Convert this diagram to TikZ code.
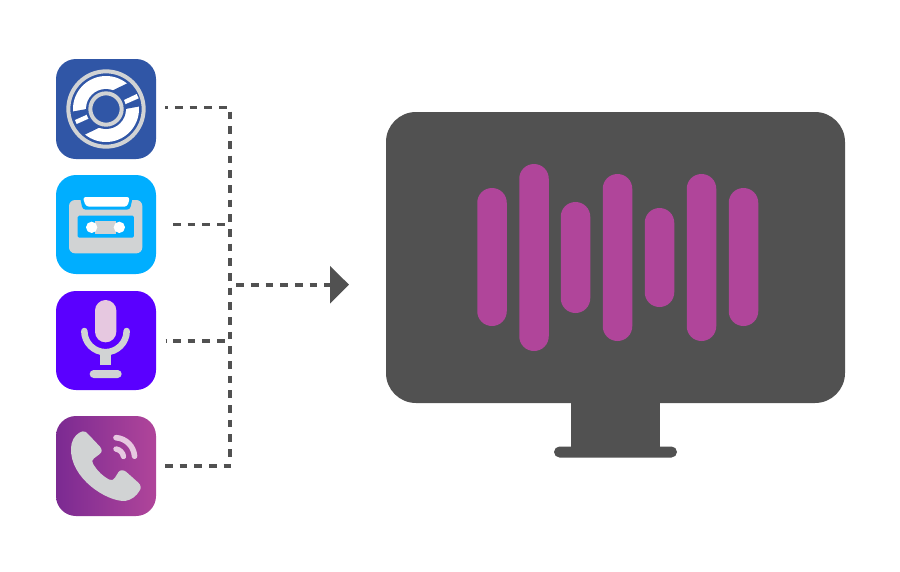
\documentclass[tikz,border=0pt]{standalone}
\usetikzlibrary{arrows.meta}
\definecolor{darkg}{HTML}{515151}
\definecolor{lgray}{HTML}{D1D3D4}
\definecolor{cdblue}{HTML}{3056A6}
\definecolor{cyanb}{HTML}{00AEFF}
\definecolor{violetb}{HTML}{5A00FF}
\definecolor{mag}{HTML}{B0459A}
\definecolor{plum}{HTML}{7B2A92}
\definecolor{pinkl}{HTML}{E6C8E0}
\tikzset{
  icon/.style={minimum width=100pt,minimum height=100pt,inner sep=0pt,rounded corners=20pt},
  link/.style={draw=darkg,line width=3.6pt,dash pattern=on 7.7pt off 6.97pt},
  wavebar/.style={fill=mag,inner sep=0pt,minimum width=29.5pt,rounded corners=14.7pt},
  zoomed/.style={x=0.33333pt,y=-0.33333pt}
}
\begin{document}
\begin{tikzpicture}[x=1pt,y=-1pt]
\useasboundingbox (0,0) rectangle (900,571);
\fill[white] (0,0) rectangle (900,571);

% icons
\node[icon,fill=cdblue] (cd) at (106,109) {};
\node[icon,fill=cyanb,minimum height=99pt] (tape) at (106,224.5) {};
\node[icon,fill=violetb,minimum height=99pt] (mic) at (106,340.5) {};
\node[icon,left color=plum,right color=mag] (phone) at (106,466) {};

% disc
\begin{scope}[shift={(40,45)},zoomed]
  \fill[white] (198,192) circle[radius=99];
  \fill[cdblue] (268,112) -- (200,145) -- (240,195) -- (305,183) -- (310,120) -- cycle;
  \fill[cdblue] (128,272) -- (196,239) -- (156,189) -- (91,201) -- (86,264) -- cycle;
  \fill[white] (250,166) -- (290,147) -- (296,160) -- (255,178) -- cycle;
  \fill[white] (105,225) -- (143,208) -- (148,220) -- (110,237) -- cycle;
  \fill[cdblue] (198,192) circle[radius=60];
  \draw[lgray,line width=4pt] (198,192) circle[radius=47];
  \draw[lgray,line width=4pt] (198,192) circle[radius=113];
\end{scope}

% cassette
\begin{scope}[shift={(40,165)},zoomed]
  \fill[lgray,rounded corners=6pt] (87,105) rectangle (307,265);
  \fill[cyanb,rounded corners=3pt] (118,88) -- (280,88) -- (270,134) -- (128,134) -- cycle;
  \fill[white,rounded corners=3pt] (128,96) -- (270,96) -- (262,125) -- (138,125) -- cycle;
  \fill[cyanb,rounded corners=1.5pt] (113,152) rectangle (282,218);
  \fill[lgray] (165,167) rectangle (228,208);
  \fill[white] (155,187) circle[radius=17];
  \fill[white] (238,187) circle[radius=17];
\end{scope}

% microphone
\begin{scope}[shift={(40,285)},zoomed]
  \fill[lgray] (181,205) rectangle (214,240);
  \draw[lgray,line width=6.5pt,line cap=round] (133,138) arc[start angle=180,end angle=0,radius=63.5];
  \fill[pinkl,rounded corners=10.6pt] (165,45) rectangle (229,172);
  \fill[lgray,rounded corners=4pt] (149,255) rectangle (245,279);
\end{scope}

% phone
\begin{scope}[shift={(40,405)},zoomed]
  \fill[lgray] (95,115) .. controls (100,95) and (115,82) .. (128,79)
    .. controls (135,78) and (140,82) .. (145,88) -- (180,125)
    .. controls (188,135) and (186,142) .. (178,148) -- (162,160)
    .. controls (155,165) and (155,170) .. (160,178)
    .. controls (172,198) and (190,215) .. (208,224)
    .. controls (216,227) and (220,225) .. (225,218) -- (235,202)
    .. controls (240,194) and (250,194) .. (258,200) -- (295,233)
    .. controls (304,242) and (304,250) .. (298,258)
    .. controls (290,272) and (275,285) .. (255,288)
    .. controls (200,290) and (90,220) .. (93,130) -- cycle;
  \draw[pinkl,line width=5.6pt,line cap=round] (228,98) arc[start angle=274,end angle=356,radius=60];
  \draw[pinkl,line width=5.4pt,line cap=round] (228,132) arc[start angle=279,end angle=351,radius=27];
\end{scope}

% monitor
\node[fill=darkg,inner sep=0pt,minimum width=459pt,minimum height=291pt,rounded corners=30pt] (screen) at (615.5,257.5) {};
\node[fill=darkg,inner sep=0pt,minimum width=89pt,minimum height=46pt] (stand) at (615.5,426) {};
\node[fill=darkg,inner sep=0pt,minimum width=123pt,minimum height=11pt,rounded corners=5.5pt] (base) at (615.5,452) {};

% bars
\node[wavebar,minimum height=138pt] (b1) at (492,257) {};
\node[wavebar,minimum height=187pt] (b2) at (534,257.5) {};
\node[wavebar,minimum height=111pt] (b3) at (575.5,257.5) {};
\node[wavebar,minimum height=167pt] (b4) at (617.5,257.5) {};
\node[wavebar,minimum height=99pt] (b5) at (659.5,257.5) {};
\node[wavebar,minimum height=167pt] (b6) at (701.5,257.5) {};
\node[wavebar,minimum height=138pt] (b7) at (743.5,257) {};

% connectors
\coordinate (s1) at (165.3,107.5);
\coordinate (e1) at (226.7,107.5);
\coordinate (s2) at (173,224.3);
\coordinate (e2) at (225,224.3);
\coordinate (s3) at (165.63,340.7);
\coordinate (e3) at (225,340.7);
\coordinate (s4) at (165,465.7);
\coordinate (e4) at (232,465.7);
\coordinate (bt) at (230.2,111.7);
\coordinate (bb) at (230.2,460);
\coordinate (bo) at (236.3,284.7);
\coordinate (tip) at (349,284.7);

\draw[link,dash phase=5pt] (s1) -- (e1);
\draw[link] (s2) -- (e2);
\draw[link,dash phase=7.3pt] (s3) -- (e3);
\draw[link] (s4) -- (e4);
\draw[link] (bt) -- (bb);
\draw[link,-{Triangle[length=19pt,width=37pt,color=darkg]}] (bo) -- (tip);
\end{tikzpicture}
\end{document}
